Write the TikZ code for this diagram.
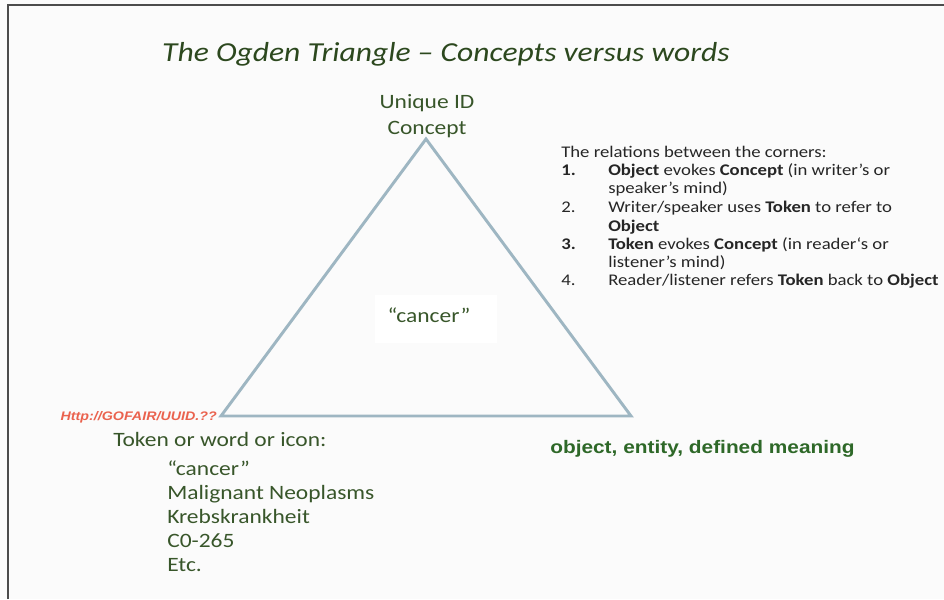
\documentclass[tikz,border=0pt]{standalone}
\usepackage{fontspec}
\setmainfont{Carlito}[FakeStretch=1.15]
\newfontfamily\arialfont{Liberation Sans}[FakeStretch=1.15]
\usetikzlibrary{positioning}
\definecolor{titlegreen}{RGB}{44,72,30}
\definecolor{wordgreen}{RGB}{56,86,42}
\definecolor{objgreen}{RGB}{46,104,40}
\definecolor{triline}{RGB}{158,182,194}
\definecolor{urlred}{RGB}{234,98,78}
\definecolor{bgpaper}{RGB}{251,251,251}

\begin{document}
\begin{tikzpicture}[x=0.75pt,y=-0.75pt,
                   lbl/.style={anchor=base,text=wordgreen,font=\fontsize{15.3}{18}\selectfont,inner sep=0pt},
                   rel/.style={anchor=base west,inner sep=0pt,font=\fontsize{12.2}{14}\selectfont,text=black!85},
                   tok/.style={anchor=base west,inner sep=0pt,text=wordgreen,font=\fontsize{15.3}{18}\selectfont}]
\fill[bgpaper] (0,0) rectangle (944,599);
\useasboundingbox (0,0) rectangle (944,599);
\draw[black!70,line width=2] (8,599) -- (8,5) -- (944,5);
\fill[white] (375,295) rectangle (497,343);
\node[anchor=base,inner sep=0pt,text=titlegreen,font=\fontsize{20.6}{24}\selectfont\itshape] (title) at (446,62) {The Ogden Triangle -- Concepts versus words};
\coordinate (concept) at (426,139);
\coordinate (token) at (221,416);
\coordinate (object) at (631,416);
\draw[triline,line width=2.2,line join=miter] (concept) -- (token) -- (object) -- cycle;
\node[lbl] (uid) at (427,109) {Unique ID};
\node[lbl] (cpt) at (427,134) {Concept};
\node[lbl] (mid) at (429,322) {``cancer''};
\node[anchor=base east,inner sep=0pt,text=urlred,font=\arialfont\fontsize{9.3}{11}\selectfont\bfseries\itshape] (url) at (217,420) {Http://GOFAIR/UUID.??};
\node[tok] (tokhead) at (113,446) {Token or word or icon:};
\node[tok] (w1) at (167,475) {``cancer''};
\node[tok] (w2) at (167,499) {Malignant Neoplasms};
\node[tok] (w3) at (167,523) {Krebskrankheit};
\node[tok] (w4) at (167,547) {C0-265};
\node[tok] (w5) at (167,571) {Etc.};
\node[anchor=base west,inner sep=0pt,text=objgreen,font=\arialfont\fontsize{13.6}{16}\selectfont\bfseries] (obj) at (550,453) {object, entity, defined meaning};
\node[rel] (relhead) at (561,157) {The relations between the corners:};
\node[rel] (n1) at (561,175) {\textbf{1.}};
\node[rel] (r1a) at (608,175) {\textbf{Object} evokes \textbf{Concept} (in writer’s or};
\node[rel] (r1b) at (608,193) {speaker’s mind)};
\node[rel] (n2) at (561,212) {2.};
\node[rel] (r2a) at (608,212) {Writer/speaker uses \textbf{Token} to refer to};
\node[rel] (r2b) at (608,231) {\textbf{Object}};
\node[rel] (n3) at (561,249) {\textbf{3.}};
\node[rel] (r3a) at (608,249) {\textbf{Token} evokes \textbf{Concept} (in reader‘s or};
\node[rel] (r3b) at (608,267) {listener\char"0027 s mind)};
\node[rel] (n4) at (561,285) {4.};
\node[rel] (r4a) at (608,285) {Reader/listener refers \textbf{Token} back to \textbf{Object}};
\end{tikzpicture}
\end{document}
